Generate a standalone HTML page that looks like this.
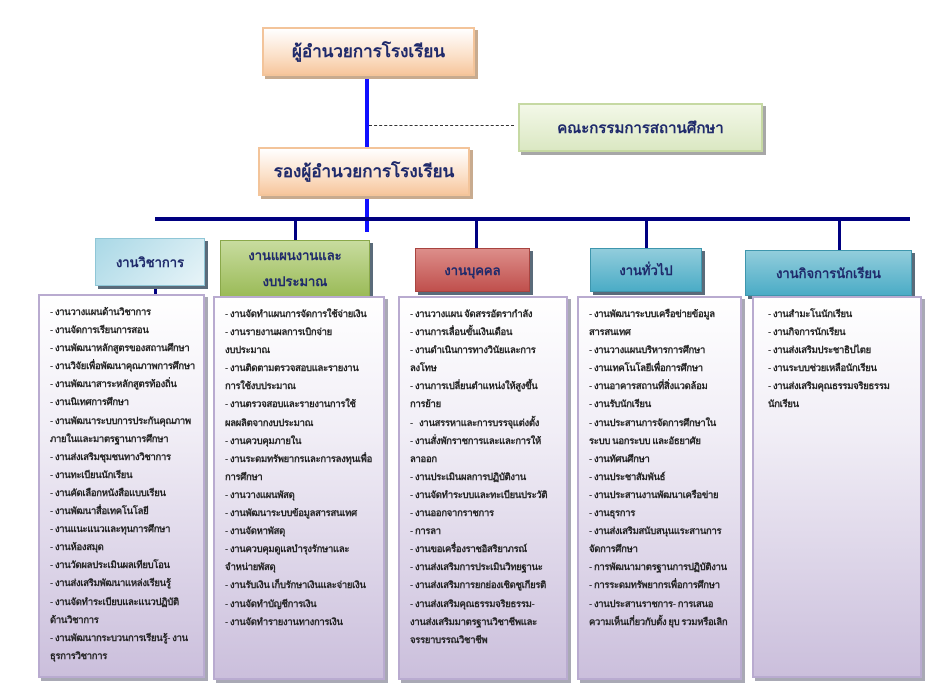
<!DOCTYPE html>
<html><head><meta charset="utf-8"><style>
body{margin:0;width:947px;height:694px;background:#fff;position:relative;overflow:hidden;font-family:"Liberation Serif","DejaVu Sans",serif;}
.a{position:absolute;box-sizing:border-box;}
.t{display:flex;align-items:center;justify-content:center;text-align:center;font-weight:bold;color:#1f2a6b;}
.or{background:linear-gradient(#fff 0%,#fbe0c8 60%,#f7c79e 100%);border:2px solid #f3c49a;box-shadow:3px 3px 0 #c8ab8f;font-size:17px;}
.hd{font-size:13px;box-shadow:3px 3px 0 #5a6b7a;}
.lst{background:linear-gradient(#fff 0%,#f1eef6 35%,#cbbfdc 100%);border:2px solid #b9abd0;box-shadow:3px 3px 0 #a9a9b5;font-size:9.5px;letter-spacing:-0.3px;font-weight:bold;color:#222;line-height:18.1px;padding:8px 4px 0 10px;white-space:nowrap;overflow:hidden;}
.ln{background:#000080;}
</style></head><body>
<div class="a" style="left:365px;top:76px;width:4px;height:72px;background:#1010ff"></div>
<div class="a" style="left:365px;top:195px;width:4px;height:37px;background:#1010ff"></div>
<div class="a" style="left:369px;top:125px;width:145px;border-top:1.5px dashed #333"></div>
<div class="a t or" style="left:262px;top:27px;width:213px;height:49px">ผู้อำนวยการโรงเรียน</div>
<div class="a t or" style="left:258px;top:147px;width:212px;height:49px">รองผู้อำนวยการโรงเรียน</div>
<div class="a t" style="left:518px;top:103px;width:245px;height:49px;background:linear-gradient(#f3f8e8,#dbe8c3);border:2px solid #c6d9a3;box-shadow:3px 3px 0 #a7a7a7;font-size:15px">คณะกรรมการสถานศึกษา</div>
<div class="a ln" style="left:155px;top:217px;width:755px;height:4px"></div>
<div class="a ln" style="left:294px;top:219px;width:3px;height:22px"></div>
<div class="a ln" style="left:475px;top:219px;width:3px;height:30px"></div>
<div class="a ln" style="left:645px;top:219px;width:3px;height:30px"></div>
<div class="a ln" style="left:838px;top:219px;width:3px;height:32px"></div>
<div class="a ln" style="left:154px;top:284px;width:3px;height:12px"></div>
<div class="a t hd" style="left:95px;top:238px;width:110px;height:48px;background:linear-gradient(135deg,#a9d8e6,#e8f4f8);border:1px solid #8fc6d6">งานวิชาการ</div>
<div class="a t hd" style="left:220px;top:240px;width:150px;height:57px;background:linear-gradient(#c8dc9f,#9bbb58);border:1px solid #8aa84a;line-height:26px">งานแผนงานและ<br>งบประมาณ</div>
<div class="a t hd" style="left:415px;top:248px;width:115px;height:44px;background:linear-gradient(#dd8e8a,#c0504d);border:1px solid #a84440">งานบุคคล</div>
<div class="a t hd" style="left:590px;top:248px;width:112px;height:44px;background:linear-gradient(#92cddc,#4bacc6);border:1px solid #3e96ad">งานทั่วไป</div>
<div class="a t hd" style="left:745px;top:250px;width:167px;height:46px;background:linear-gradient(#92cddc,#4bacc6);border:1px solid #3e96ad">งานกิจการนักเรียน</div>
<div class="a lst" style="left:38px;top:294px;width:167px;height:384px">- งานวางแผนด้านวิชาการ<br>- งานจัดการเรียนการสอน<br>- งานพัฒนาหลักสูตรของสถานศึกษา<br>- งานวิจัยเพื่อพัฒนาคุณภาพการศึกษา<br>- งานพัฒนาสาระหลักสูตรท้องถิ่น<br>- งานนิเทศการศึกษา<br>- งานพัฒนาระบบการประกันคุณภาพ<br>ภายในและมาตรฐานการศึกษา<br>- งานส่งเสริมชุมชนทางวิชาการ<br>- งานทะเบียนนักเรียน<br>- งานคัดเลือกหนังสือแบบเรียน<br>- งานพัฒนาสื่อเทคโนโลยี<br>- งานแนะแนวและทุนการศึกษา<br>- งานห้องสมุด<br>- งานวัดผลประเมินผลเทียบโอน<br>- งานส่งเสริมพัฒนาแหล่งเรียนรู้<br>- งานจัดทำระเบียบและแนวปฏิบัติ<br>ด้านวิชาการ<br>- งานพัฒนากระบวนการเรียนรู้- งาน<br>ธุรการวิชาการ</div>
<div class="a lst" style="left:213px;top:296px;width:172px;height:384px">- งานจัดทำแผนการจัดการใช้จ่ายเงิน<br>- งานรายงานผลการเบิกจ่าย<br>งบประมาณ<br>- งานติดตามตรวจสอบและรายงาน<br>การใช้งบประมาณ<br>- งานตรวจสอบและรายงานการใช้<br>ผลผลิตจากงบประมาณ<br>- งานควบคุมภายใน<br>- งานระดมทรัพยากรและการลงทุนเพื่อ<br>การศึกษา<br>- งานวางแผนพัสดุ<br>- งานพัฒนาระบบข้อมูลสารสนเทศ<br>- งานจัดหาพัสดุ<br>- งานควบคุมดูแลบำรุงรักษาและ<br>จำหน่ายพัสดุ<br>- งานรับเงิน เก็บรักษาเงินและจ่ายเงิน<br>- งานจัดทำบัญชีการเงิน<br>- งานจัดทำรายงานทางการเงิน</div>
<div class="a lst" style="left:398px;top:296px;width:170px;height:384px">- งานวางแผน จัดสรรอัตรากำลัง<br>- งานการเลื่อนขั้นเงินเดือน<br>- งานดำเนินการทางวินัยและการ<br>ลงโทษ<br>- งานการเปลี่ยนตำแหน่งให้สูงขึ้น<br>การย้าย<br>- &nbsp;&nbsp;งานสรรหาและการบรรจุแต่งตั้ง<br>- งานสั่งพักราชการและและการให้<br>ลาออก<br>- งานประเมินผลการปฏิบัติงาน<br>- งานจัดทำระบบและทะเบียนประวัติ<br>- งานออกจากราชการ<br>- การลา<br>- งานขอเครื่องราชอิสริยาภรณ์<br>- งานส่งเสริมการประเมินวิทยฐานะ<br>- งานส่งเสริมการยกย่องเชิดชูเกียรติ<br>- งานส่งเสริมคุณธรรมจริยธรรม-<br>งานส่งเสริมมาตรฐานวิชาชีพและ<br>จรรยาบรรณวิชาชีพ</div>
<div class="a lst" style="left:577px;top:296px;width:165px;height:384px">- งานพัฒนาระบบเครือข่ายข้อมูล<br>สารสนเทศ<br>- งานวางแผนบริหารการศึกษา<br>- งานเทคโนโลยีเพื่อการศึกษา<br>- งานอาคารสถานที่สิ่งแวดล้อม<br>- งานรับนักเรียน<br>- งานประสานการจัดการศึกษาใน<br>ระบบ นอกระบบ และอัธยาศัย<br>- งานทัศนศึกษา<br>- งานประชาสัมพันธ์<br>- งานประสานงานพัฒนาเครือข่าย<br>- งานธุรการ<br>- งานส่งเสริมสนับสนุนแระสานการ<br>จัดการศึกษา<br>- การพัฒนามาตรฐานการปฏิบัติงาน<br>- การระดมทรัพยากรเพื่อการศึกษา<br>- งานประสานราชการ- การเสนอ<br>ความเห็นเกี่ยวกับตั้ง ยุบ รวมหรือเลิก</div>
<div class="a lst" style="left:752px;top:296px;width:170px;height:382px;padding-left:14px">- งานสำมะโนนักเรียน<br>- งานกิจการนักเรียน<br>- งานส่งเสริมประชาธิปไตย<br>- งานระบบช่วยเหลือนักเรียน<br>- งานส่งเสริมคุณธรรมจริยธรรม<br>นักเรียน</div>
</body></html>
